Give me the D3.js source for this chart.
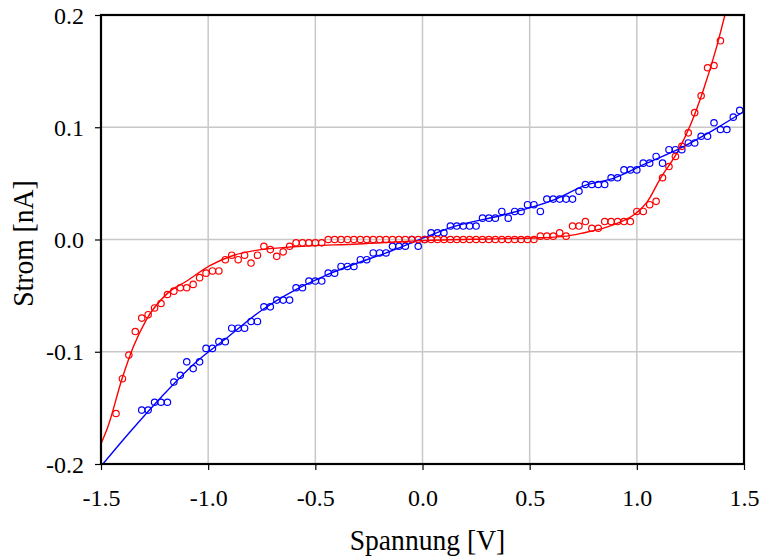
<!DOCTYPE html>
<html>
<head>
<meta charset="utf-8">
<script src="https://cdn.jsdelivr.net/npm/d3@7"></script>
<style>
  body { margin: 0; background: #fff; }
  text { font-family: "Liberation Serif", "Times New Roman", serif; fill: #000; }
</style>
</head>
<body>
<div id="chart"></div>
<script>
// measurement grid (V), shared by both series
var spannung = [-1.43,-1.40,-1.37,-1.34,-1.31,-1.28,-1.25,-1.22,-1.19,-1.16,
  -1.13,-1.10,-1.07,-1.04,-1.01,-0.98,-0.95,-0.92,-0.89,-0.86,
  -0.83,-0.80,-0.77,-0.74,-0.71,-0.68,-0.65,-0.62,-0.59,-0.56,
  -0.53,-0.50,-0.47,-0.44,-0.41,-0.38,-0.35,-0.32,-0.29,-0.26,
  -0.23,-0.20,-0.17,-0.14,-0.11,-0.08,-0.05,-0.02,0.01,0.04,
  0.07,0.10,0.13,0.16,0.19,0.22,0.25,0.28,0.31,0.34,
  0.37,0.40,0.43,0.46,0.49,0.52,0.55,0.58,0.61,0.64,
  0.67,0.70,0.73,0.76,0.79,0.82,0.85,0.88,0.91,0.94,
  0.97,1.00,1.03,1.06,1.09,1.12,1.15,1.18,1.21,1.24,
  1.27,1.30,1.33,1.36,1.39,1.42,1.45,1.48];

// red series: spannung[0..94]
var stromRot = [-0.155,-0.124,-0.103,-0.082,-0.070,-0.067,-0.061,-0.057,-0.049,-0.046,
  -0.043,-0.043,-0.040,-0.034,-0.030,-0.028,-0.028,-0.018,-0.014,-0.018,
  -0.014,-0.021,-0.014,-0.006,-0.009,-0.015,-0.011,-0.006,-0.003,-0.003,
  -0.003,-0.003,-0.003,0.000,0.000,0.000,0.000,0.000,0.000,0.000,
  0.000,0.000,0.000,0.000,0.000,0.000,0.000,0.000,0.000,0.000,
  0.000,0.000,0.000,0.000,0.000,0.000,0.000,0.000,0.000,0.000,
  0.000,0.000,0.000,0.000,0.000,0.000,0.003,0.003,0.003,0.006,
  0.003,0.012,0.012,0.016,0.010,0.010,0.016,0.016,0.016,0.016,
  0.016,0.025,0.025,0.031,0.034,0.055,0.065,0.074,0.083,0.095,
  0.113,0.128,0.153,0.155,0.177];

// blue series: spannung[4..97]
var stromBlau = [-0.152,-0.152,-0.145,-0.145,-0.145,-0.127,-0.121,-0.109,-0.115,-0.109,
  -0.097,-0.097,-0.091,-0.091,-0.079,-0.079,-0.079,-0.073,-0.073,-0.060,
  -0.060,-0.054,-0.054,-0.054,-0.043,-0.043,-0.037,-0.037,-0.037,-0.030,
  -0.030,-0.024,-0.024,-0.024,-0.018,-0.018,-0.012,-0.012,-0.012,-0.006,
  -0.006,-0.006,0.000,-0.006,0.000,0.006,0.006,0.006,0.012,0.012,
  0.012,0.012,0.012,0.019,0.019,0.019,0.025,0.019,0.025,0.025,
  0.031,0.031,0.025,0.036,0.036,0.036,0.036,0.036,0.043,0.049,
  0.049,0.049,0.049,0.055,0.055,0.062,0.062,0.062,0.068,0.068,
  0.074,0.068,0.080,0.080,0.080,0.086,0.086,0.092,0.092,0.104,
  0.098,0.098,0.109,0.115];

// fitted curves
var fitRotU = [-1.50,-1.47,-1.40,-1.35,-1.29,-1.19,-1.10,-0.99,-0.88,-0.77,-0.60,-0.30,0.00,0.30,0.55,0.67,0.74,0.89,1.00,1.05,1.11,1.19,1.25,1.31,1.37,1.42];
var fitRotI = [-0.182,-0.168,-0.123,-0.096,-0.072,-0.048,-0.037,-0.023,-0.014,-0.0095,-0.0065,-0.004,-0.001,0.0005,0.0015,0.003,0.0055,0.013,0.024,0.034,0.0545,0.078,0.102,0.133,0.170,0.207];
var fitBlauU = [-1.50,-1.372,-1.217,-1.061,-0.906,-0.75,-0.595,-0.447,-0.136,0.02,0.144,0.377,0.61,0.766,0.89,1.046,1.201,1.357,1.50];
var fitBlauI = [-0.202,-0.173,-0.140,-0.110,-0.0866,-0.063,-0.045,-0.0316,-0.0094,0.0025,0.0114,0.0218,0.035,0.0486,0.0545,0.068,0.0812,0.0975,0.114];

var xTicks = [-1.5,-1.0,-0.5,0.0,0.5,1.0,1.5];
var yTicks = [-0.2,-0.1,0.0,0.1,0.2];

var W = 760, H = 559;
var margin = {top: 15, right: 16, bottom: 95, left: 101};
var width = W - margin.left - margin.right;
var height = H - margin.top - margin.bottom;

var x = d3.scaleLinear().domain([-1.5, 1.5]).range([0, width]);
var y = d3.scaleLinear().domain([-0.2, 0.2]).range([height, 0]);

var svg = d3.select('#chart').append('svg')
    .attr('width', W)
    .attr('height', H);

var g = svg.append('g')
    .attr('transform', 'translate(' + margin.left + ',' + margin.top + ')');

g.append('clipPath').attr('id', 'clip')
  .append('rect').attr('width', width).attr('height', height);

// grid
g.selectAll('line.gx')
    .data(xTicks.slice(1, -1))
    .enter().append('line')
    .attr('class', 'gx')
    .attr('x1', function (d) { return x(d); })
    .attr('x2', function (d) { return x(d); })
    .attr('y1', 0).attr('y2', height)
    .attr('stroke', '#c8c8c8').attr('stroke-width', 1.5);

g.selectAll('line.gy')
    .data(yTicks.slice(1, -1))
    .enter().append('line')
    .attr('class', 'gy')
    .attr('y1', function (d) { return y(d); })
    .attr('y2', function (d) { return y(d); })
    .attr('x1', 0).attr('x2', width)
    .attr('stroke', '#c8c8c8').attr('stroke-width', 1.5);

// axes
var fmt = function (d) { return d.toFixed(1); };

var xAxis = g.append('g')
    .attr('transform', 'translate(0,' + height + ')')
    .call(d3.axisBottom(x).tickValues(xTicks).tickFormat(fmt).tickSize(6).tickSizeOuter(0));
xAxis.select('.domain').remove();
xAxis.selectAll('line').attr('stroke', '#000').attr('stroke-width', 1.2);
xAxis.selectAll('text')
    .attr('y', 42).attr('dy', null)
    .style('font-size', '24px').attr('font-family', null);

var yAxis = g.append('g')
    .call(d3.axisLeft(y).tickValues(yTicks).tickFormat(fmt).tickSize(6).tickSizeOuter(0));
yAxis.select('.domain').remove();
yAxis.selectAll('line').attr('stroke', '#000').attr('stroke-width', 1.2);
yAxis.selectAll('text')
    .attr('x', -17).attr('dy', null).attr('y', 8)
    .style('font-size', '24px').attr('font-family', null);

// fitted lines
function fitLine(us, is) {
  return d3.line()
    .x(function (d, i) { return x(us[i]); })
    .y(function (d, i) { return y(is[i]); })
    .curve(d3.curveMonotoneX)(us);
}

g.append('path')
    .attr('d', fitLine(fitBlauU, fitBlauI))
    .attr('clip-path', 'url(#clip)')
    .attr('fill', 'none').attr('stroke', '#0000ff').attr('stroke-width', 1.4);

g.append('path')
    .attr('d', fitLine(fitRotU, fitRotI))
    .attr('clip-path', 'url(#clip)')
    .attr('fill', 'none').attr('stroke', '#ff0000').attr('stroke-width', 1.4);

// markers
g.selectAll('circle.blau')
    .data(stromBlau)
    .enter().append('circle')
    .attr('class', 'blau')
    .attr('cx', function (d, i) { return x(spannung[i + 4]); })
    .attr('cy', function (d) { return y(d); })
    .attr('r', 3.2)
    .attr('fill', 'none').attr('stroke', '#0000ff').attr('stroke-width', 1.2);

g.selectAll('circle.rot')
    .data(stromRot)
    .enter().append('circle')
    .attr('class', 'rot')
    .attr('cx', function (d, i) { return x(spannung[i]); })
    .attr('cy', function (d) { return y(d); })
    .attr('r', 3.2)
    .attr('fill', 'none').attr('stroke', '#ff0000').attr('stroke-width', 1.2);

// frame
g.append('rect')
    .attr('width', width).attr('height', height)
    .attr('fill', 'none').attr('stroke', '#000').attr('stroke-width', 2.2);

// titles
svg.append('text')
    .attr('transform', 'translate(' + (margin.left + x(0) + 5) + ',550) scale(0.92,1)')
    .attr('text-anchor', 'middle')
    .style('font-size', '30px')
    .text('Spannung [V]');

svg.append('text')
    .attr('transform', 'translate(33,' + (margin.top + y(0) + 4) + ') rotate(-90) scale(0.92,1)')
    .attr('text-anchor', 'middle')
    .style('font-size', '30px')
    .text('Strom [nA]');
</script>
</body>
</html>
